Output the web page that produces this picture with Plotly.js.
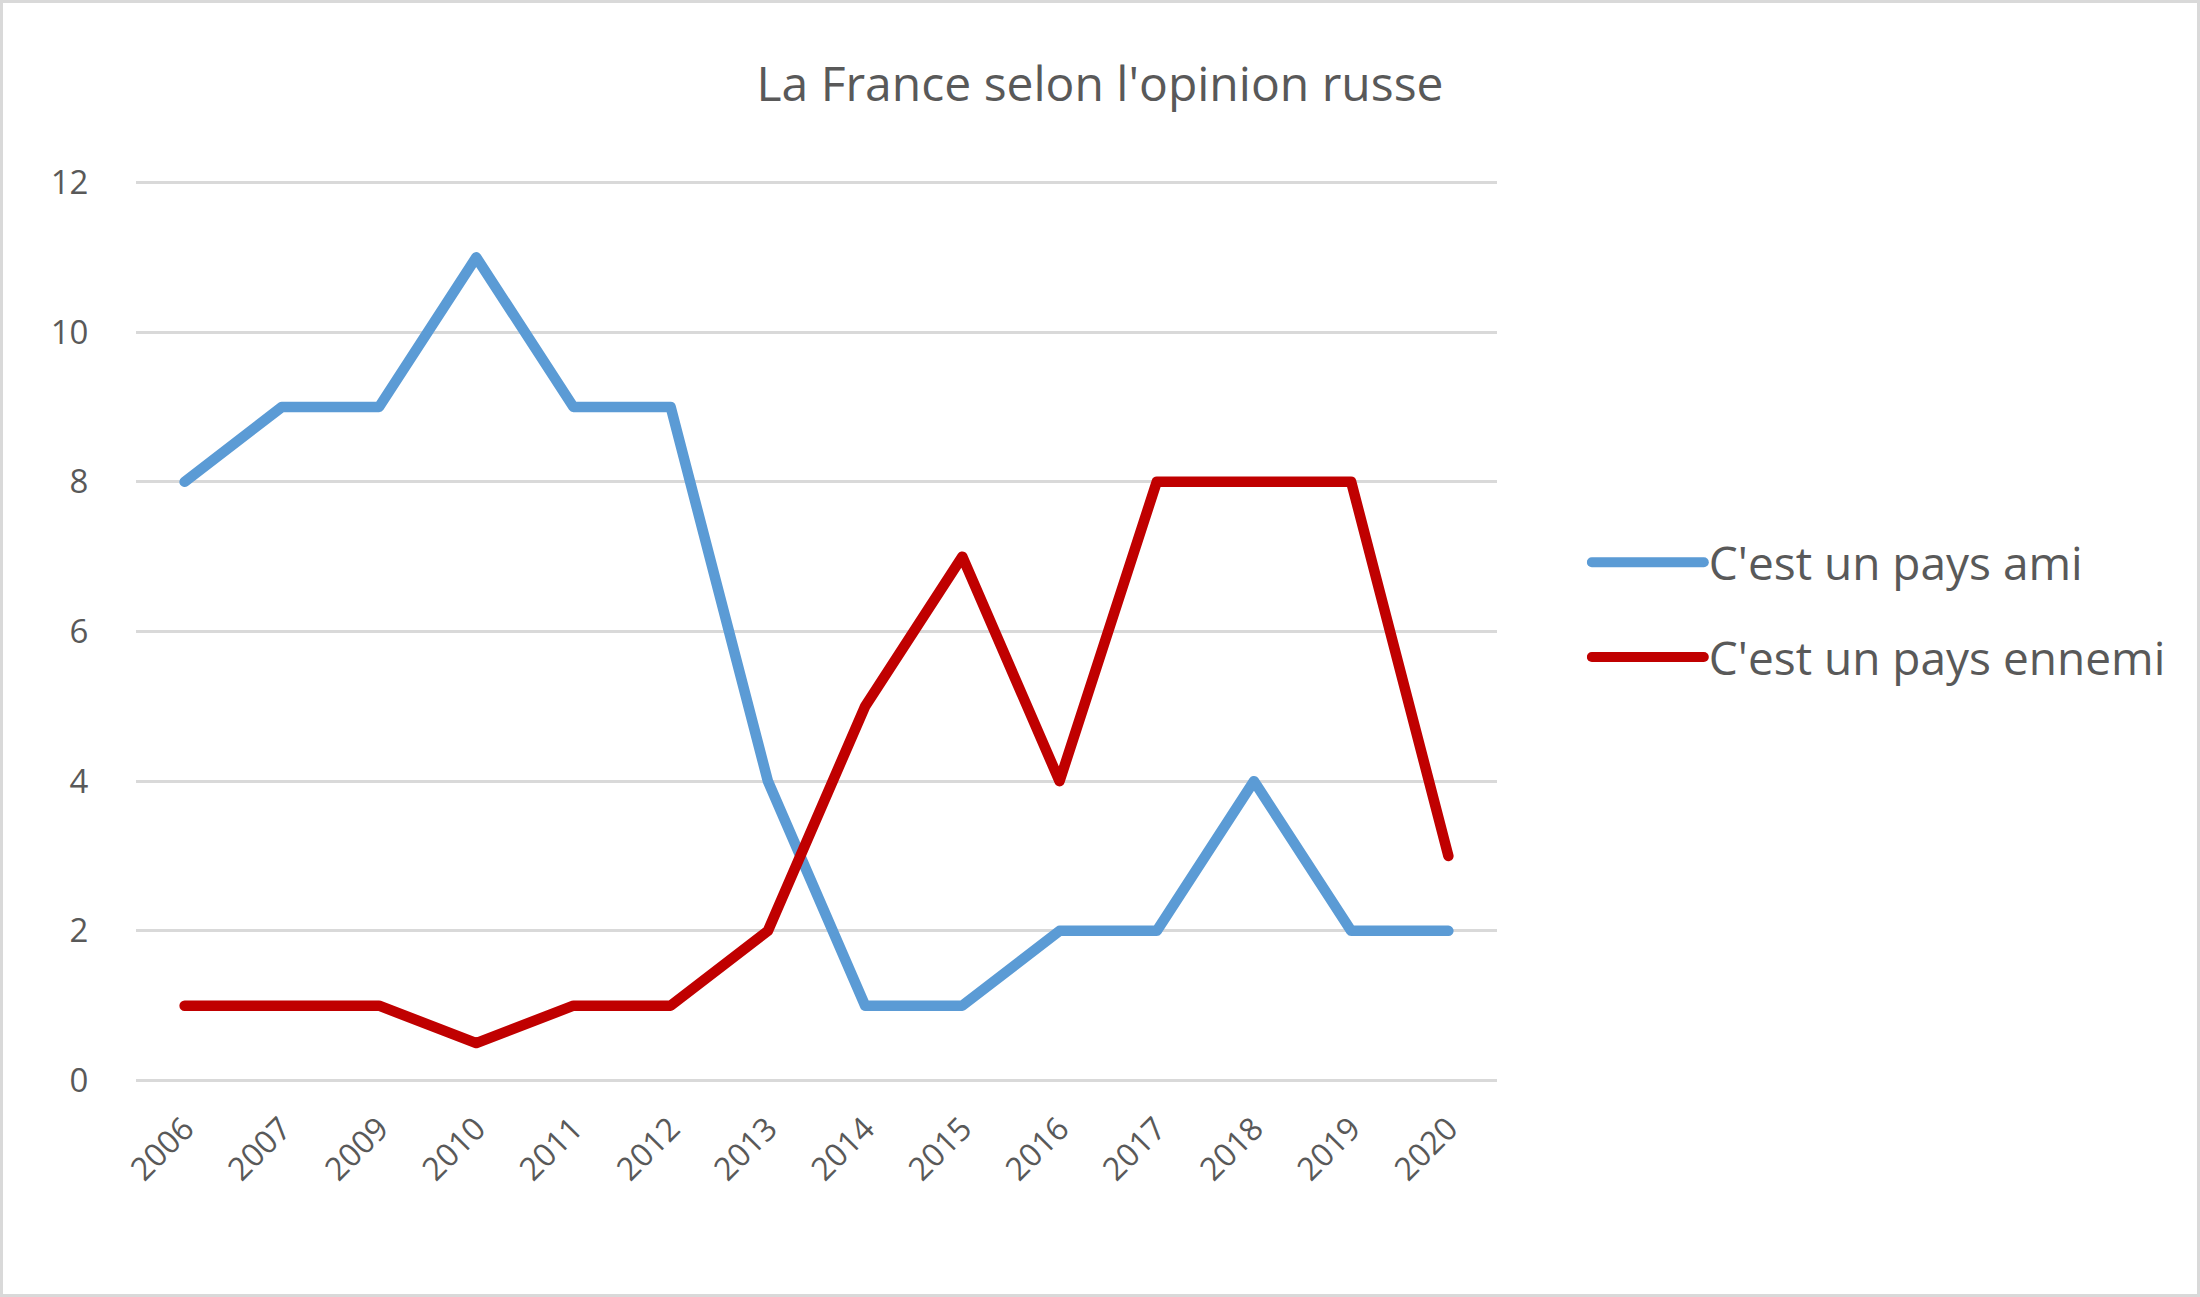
<!DOCTYPE html>
<html>
<head>
<meta charset="utf-8">
<script src="https://cdn.plot.ly/plotly-3.0.1.min.js"></script>
<style>
  html, body { margin: 0; padding: 0; background: #fff; }
  #wrap { position: relative; width: 2200px; height: 1297px; }
  #chart { position: absolute; left: 0; top: 0; width: 2200px; height: 1297px; }
  #frame { position: absolute; left: 0; top: 0; width: 2200px; height: 1297px; box-sizing: border-box; border: 3px solid #d9d9d9; pointer-events: none; }
  #chart path.js-line { stroke-linecap: round; stroke-linejoin: round; }
</style>
</head>
<body>
<div id="wrap"><div id="chart"></div><div id="frame"></div></div>
<script>
const years = ["2006","2007","2009","2010","2011","2012","2013","2014","2015","2016","2017","2018","2019","2020"];
const paysAmi = [8, 9, 9, 11, 9, 9, 4, 1, 1, 2, 2, 4, 2, 2];
const paysEnnemi = [1, 1, 1, 0.5, 1, 1, 2, 5, 7, 4, 8, 8, 8, 3];
const seriesNames = ["C'est un pays ami", "C'est un pays ennemi"];
const chartTitle = "La France selon l'opinion russe";

const FONT = "'Open Sans', 'Noto Sans', sans-serif";
const TXT = "#595959";

const traces = [
  { x: years, y: paysAmi, name: seriesNames[0], legendgroup: "a", type: "scatter", mode: "lines",
    line: { color: "#5B9BD5", width: 10.5, shape: "linear" } },
  { x: years, y: paysEnnemi, name: seriesNames[1], legendgroup: "b", type: "scatter", mode: "lines",
    line: { color: "#C00000", width: 10.5, shape: "linear" } }
];

const layout = {
  width: 2200, height: 1297,
  paper_bgcolor: "#ffffff", plot_bgcolor: "#ffffff",
  margin: { l: 136, r: 703, t: 181, b: 215, pad: 0 },
  title: { text: chartTitle, x: 0.5, xref: "container", xanchor: "center", y: 0.935, yref: "container", yanchor: "middle",
           font: { family: FONT, size: 48, color: TXT } },
  showlegend: true,
  legend: { x: 1.066, xanchor: "left", y: 0.524, yanchor: "middle", font: { family: FONT, size: 46, color: TXT },
            itemwidth: 112, tracegroupgap: 32, bgcolor: "rgba(0,0,0,0)" },
  xaxis: { type: "category", tickangle: -45, showgrid: false, zeroline: false, showline: false,
           ticks: "outside", ticklen: 14, tickcolor: "rgba(0,0,0,0)",
           tickfont: { family: FONT, size: 32, color: TXT }, range: [-0.5, 13.5] },
  yaxis: { range: [-0.02, 12.02], dtick: 2, tick0: 0, showgrid: true, gridcolor: "#d9d9d9", gridwidth: 3,
           zeroline: false, showline: false, ticks: "outside", ticklen: 40, tickcolor: "rgba(0,0,0,0)",
           tickfont: { family: FONT, size: 33, color: TXT } }
};

Plotly.newPlot("chart", traces, layout, { displayModeBar: false, staticPlot: true });
</script>
</body>
</html>
